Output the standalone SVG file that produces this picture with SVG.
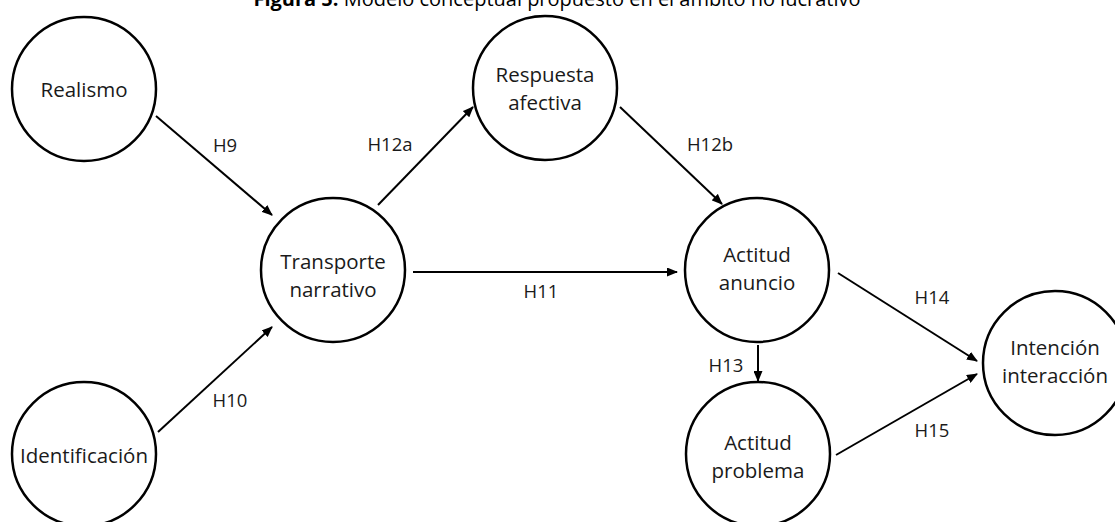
<svg xmlns="http://www.w3.org/2000/svg" width="1115" height="522" viewBox="0 0 1115 522">
<defs>
<marker id="arr" markerUnits="userSpaceOnUse" markerWidth="11" markerHeight="9" refX="10" refY="4.5" orient="auto">
<path d="M0,0 L11,4.5 L0,9 z" fill="#000"/>
</marker>
<style>
.n{fill:#fff;stroke:#000;stroke-width:2.5}
.t{font-family:"Open Sans","Liberation Sans",sans-serif;font-size:20.5px;fill:#1a1a1a;text-anchor:middle}
.l{font-family:"Open Sans","Liberation Sans",sans-serif;font-size:18.5px;fill:#1a1a1a;text-anchor:middle}
.c{stroke:#000;stroke-width:2;fill:none;marker-end:url(#arr)}
.ti{font-family:"Open Sans","Liberation Sans",sans-serif;font-size:20px;fill:#000;text-anchor:middle}
</style>
</defs>
<rect width="1115" height="522" fill="#fff"/>
<text class="ti" x="557" y="6"><tspan font-weight="bold">Figura 5.</tspan> Modelo conceptual propuesto en el ámbito no lucrativo</text>
<g id="connectors">
<line class="c" x1="156" y1="116" x2="272" y2="215"/>
<line class="c" x1="158" y1="432" x2="272" y2="327"/>
<line class="c" x1="378" y1="205" x2="473" y2="107"/>
<line class="c" x1="620" y1="107" x2="722" y2="204"/>
<line class="c" x1="413" y1="272" x2="677" y2="272"/>
<line class="c" x1="758" y1="345" x2="758" y2="381"/>
<line class="c" x1="838" y1="273" x2="977" y2="361"/>
<line class="c" x1="836" y1="455" x2="977" y2="374"/>
<text class="l" x="225" y="152">H9</text>
<text class="l" x="230" y="407">H10</text>
<text class="l" x="390" y="151">H12a</text>
<text class="l" x="710" y="151">H12b</text>
<text class="l" x="541" y="298">H11</text>
<text class="l" x="726" y="372">H13</text>
<text class="l" x="932" y="304">H14</text>
<text class="l" x="932" y="437">H15</text>
</g>
<g id="realismo"><circle class="n" cx="84" cy="89" r="72"/><text class="t" x="84" y="97">Realismo</text></g>
<g id="identificacion"><circle class="n" cx="84" cy="454" r="72"/><text class="t" x="84" y="463">Identificación</text></g>
<g id="transporte"><circle class="n" cx="333" cy="270" r="72"/><text class="t" x="333" y="269">Transporte</text><text class="t" x="333" y="297">narrativo</text></g>
<g id="respuesta"><circle class="n" cx="545" cy="88" r="72"/><text class="t" x="545" y="82">Respuesta</text><text class="t" x="545" y="110">afectiva</text></g>
<g id="actitud-anuncio"><circle class="n" cx="757" cy="270" r="72"/><text class="t" x="757" y="262">Actitud</text><text class="t" x="757" y="290">anuncio</text></g>
<g id="actitud-problema"><circle class="n" cx="758" cy="454" r="72"/><text class="t" x="758" y="450">Actitud</text><text class="t" x="758" y="478">problema</text></g>
<g id="intencion"><circle class="n" cx="1055" cy="363" r="72"/><text class="t" x="1055" y="355">Intención</text><text class="t" x="1055" y="383">interacción</text></g>
</svg>
